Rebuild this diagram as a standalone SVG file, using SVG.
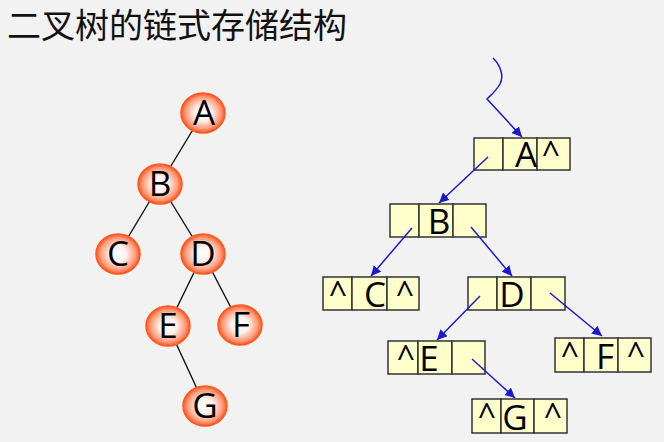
<svg xmlns="http://www.w3.org/2000/svg" width="664" height="442" viewBox="0 0 664 442">
<defs>
<radialGradient id="ball" cx="50%" cy="50%" r="50%">
<stop offset="0" stop-color="#ffffff"/>
<stop offset="0.4" stop-color="#fff0ea"/>
<stop offset="0.8" stop-color="#ff9a78"/>
<stop offset="1" stop-color="#ff5224"/>
</radialGradient>
<marker id="arr" viewBox="0 0 10 10" refX="10" refY="5" markerWidth="10" markerHeight="10" markerUnits="userSpaceOnUse" orient="auto">
<path d="M0,0 L10,5 L0,10 z" fill="#1a1acc"/>
</marker>
<style>
.title{font-family:"Noto Sans CJK SC","Noto Sans",sans-serif;font-size:34px;fill:#111}
.ball{fill:url(#ball);stroke:#ff5a1a;stroke-width:1.5}
.bl{font-family:"Open Sans","DejaVu Sans",sans-serif;font-size:35px;fill:#000;text-anchor:middle}
.tree{stroke:#111;stroke-width:1.4;fill:none}
.cell{fill:#ffffcc;stroke:#333;stroke-width:1.5}
.bt{font-family:"Open Sans","DejaVu Sans",sans-serif;font-size:35px;fill:#000;text-anchor:middle}
.cr{font-family:"Open Sans","DejaVu Sans",sans-serif;font-size:32px;fill:#000;text-anchor:middle}
.ptr{stroke:#1a1acc;stroke-width:1.5;fill:none;marker-end:url(#arr)}
</style>
</defs>
<rect width="664" height="442" fill="#f2f2f2"/>
<text class="title" x="7" y="38">二叉树的链式存储结构</text>

<g id="tree-edges">
<line class="tree" x1="203" y1="113" x2="160" y2="184"/>
<line class="tree" x1="160" y1="184" x2="118" y2="254"/>
<line class="tree" x1="160" y1="184" x2="203" y2="254"/>
<line class="tree" x1="203" y1="254" x2="168" y2="326"/>
<line class="tree" x1="203" y1="254" x2="240" y2="325"/>
<line class="tree" x1="168" y1="326" x2="205" y2="406"/>
</g>
<g id="tA"><ellipse class="ball" cx="203" cy="113" rx="22" ry="20"/><text class="bl" x="204" y="125">A</text></g>
<g id="tB"><ellipse class="ball" cx="160" cy="184" rx="22" ry="20"/><text class="bl" x="160" y="196">B</text></g>
<g id="tC"><ellipse class="ball" cx="118" cy="254" rx="22" ry="20"/><text class="bl" x="118" y="266">C</text></g>
<g id="tD"><ellipse class="ball" cx="203" cy="254" rx="22" ry="20"/><text class="bl" x="203" y="266">D</text></g>
<g id="tE"><ellipse class="ball" cx="168" cy="326" rx="22" ry="20"/><text class="bl" x="168" y="338">E</text></g>
<g id="tF"><ellipse class="ball" cx="240" cy="325" rx="22" ry="20"/><text class="bl" x="241" y="337">F</text></g>
<g id="tG"><ellipse class="ball" cx="205" cy="406" rx="22" ry="20"/><text class="bl" x="205" y="418">G</text></g>

<g id="lA">
<rect class="cell" x="474" y="138" width="29" height="32"/>
<rect class="cell" x="503" y="138" width="34" height="32"/>
<rect class="cell" x="537" y="138" width="33" height="32"/>
<text class="bt" x="526" y="167">A</text>
<text class="cr" x="551" y="165">^</text>
</g>
<g id="lB">
<rect class="cell" x="390" y="204" width="29" height="33"/>
<rect class="cell" x="419" y="204" width="34" height="33"/>
<rect class="cell" x="453" y="204" width="33" height="33"/>
<text class="bt" x="439" y="234">B</text>
</g>
<g id="lC">
<rect class="cell" x="323" y="277" width="29" height="33"/>
<rect class="cell" x="352" y="277" width="35" height="33"/>
<rect class="cell" x="387" y="277" width="32" height="33"/>
<text class="cr" x="338" y="305">^</text>
<text class="bt" x="375" y="307">C</text>
<text class="cr" x="405" y="305">^</text>
</g>
<g id="lD">
<rect class="cell" x="468" y="277" width="29" height="33"/>
<rect class="cell" x="497" y="277" width="34" height="33"/>
<rect class="cell" x="531" y="277" width="34" height="33"/>
<text class="bt" x="512" y="307">D</text>
</g>
<g id="lE">
<rect class="cell" x="388" y="341" width="30" height="33"/>
<rect class="cell" x="418" y="341" width="34" height="33"/>
<rect class="cell" x="452" y="341" width="33" height="33"/>
<text class="cr" x="406" y="369">^</text>
<text class="bt" x="429" y="371">E</text>
</g>
<g id="lF">
<rect class="cell" x="555" y="338" width="29" height="34"/>
<rect class="cell" x="584" y="338" width="34" height="34"/>
<rect class="cell" x="618" y="338" width="33" height="34"/>
<text class="cr" x="570" y="366">^</text>
<text class="bt" x="605" y="369">F</text>
<text class="cr" x="636" y="366">^</text>
</g>
<g id="lG">
<rect class="cell" x="472" y="399" width="29" height="34"/>
<rect class="cell" x="501" y="399" width="33" height="34"/>
<rect class="cell" x="534" y="399" width="33" height="34"/>
<text class="cr" x="487" y="427">^</text>
<text class="bt" x="515" y="430">G</text>
<text class="cr" x="553" y="427">^</text>
</g>

<g id="pointers">
<path class="ptr" d="M493,58 C501,66 504,76 500,84 C496,91 491,95 487,99 L522,137"/>
<line class="ptr" x1="488" y1="157" x2="439" y2="203"/>
<line class="ptr" x1="412" y1="228" x2="371" y2="276"/>
<line class="ptr" x1="471" y1="227" x2="512" y2="276"/>
<line class="ptr" x1="480" y1="296" x2="437" y2="340"/>
<line class="ptr" x1="550" y1="293" x2="602" y2="336"/>
<line class="ptr" x1="472" y1="359" x2="515" y2="398"/>
</g>
</svg>
